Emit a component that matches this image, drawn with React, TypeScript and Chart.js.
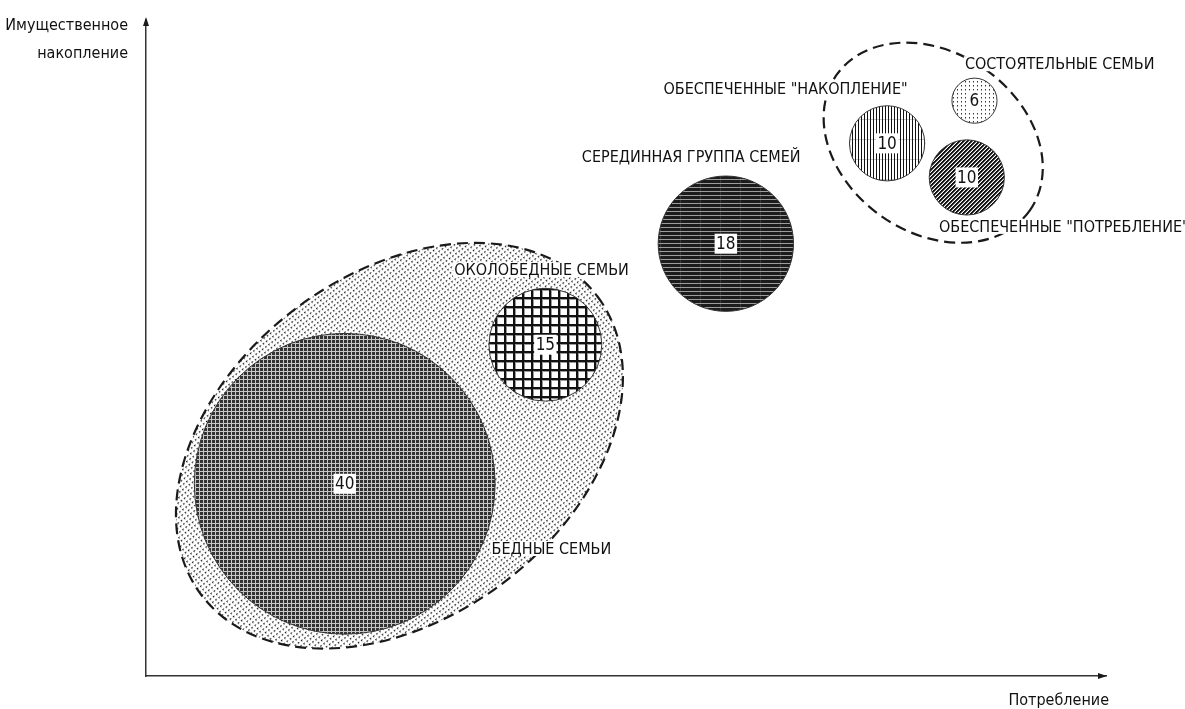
import React, { useEffect, useRef } from "react";
import { Chart, registerables } from "chart.js";

Chart.register(...registerables);

// ---- data ----
const groupNames = [
  "БЕДНЫЕ СЕМЬИ",
  "ОКОЛОБЕДНЫЕ СЕМЬИ",
  "СЕРЕДИННАЯ ГРУППА СЕМЕЙ",
  'ОБЕСПЕЧЕННЫЕ "НАКОПЛЕНИЕ"',
  'ОБЕСПЕЧЕННЫЕ "ПОТРЕБЛЕНИЕ"',
  "СОСТОЯТЕЛЬНЫЕ СЕМЬИ",
];
const consumption = [20.7, 41.6, 60.4, 77.2, 85.5, 86.3];
const accumulation = [29.3, 50.5, 65.9, 81.2, 76.0, 87.7];
const shares = [40, 15, 18, 10, 10, 6];

// cluster ellipses (centres in data units)
const clusterX = [26.4, 82.0];
const clusterY = [35.1, 81.3];

const xAxisTitle = "Потребление";
const yAxisTitle = ["Имущественное", "накопление"];

// ---- layout (positions / sizes / styles) ----
const PX_PER_SHARE = 3.76;
const clusterShape = [
  { a: 248, b: 172, rot: -37, dotted: true },
  { a: 118, b: 90, rot: 35, dotted: false },
];
const labelAnchorX = [36.0, 32.1, 45.4, 53.9, 82.6, 85.3];
const labelAnchorY = [18.6, 61.1, 78.4, 88.7, 67.7, 92.5];

const FONT_FAMILY =
  "'Liberation Sans Narrow', 'DejaVu Sans Condensed', 'Roboto Condensed', 'Liberation Sans', sans-serif";
const LABEL_FONT = `16px ${FONT_FAMILY}`;
const NUMBER_FONT = `17px ${FONT_FAMILY}`;
const INK = "#1a1a1a";

function makePattern(w: number, h: number, draw: (g: CanvasRenderingContext2D) => void) {
  const c = document.createElement("canvas");
  c.width = w;
  c.height = h;
  const g = c.getContext("2d")!;
  draw(g);
  return g.createPattern(c, "repeat")!;
}

function buildPatterns() {
  const poor = makePattern(4, 4, (g) => {
    g.fillStyle = "#c8c8c8";
    g.fillRect(0, 0, 4, 4);
    g.fillStyle = "#333";
    g.fillRect(0, 0, 3, 3);
  });
  const nearPoor = makePattern(9, 9, (g) => {
    g.fillStyle = "#fff";
    g.fillRect(0, 0, 9, 9);
    g.fillStyle = "#9a9a9a";
    g.fillRect(0, 2, 9, 1);
    g.fillRect(2, 0, 1, 9);
    g.fillStyle = "#111";
    g.fillRect(0, 0, 9, 2);
    g.fillRect(0, 0, 2, 9);
  });
  const middle = makePattern(20, 4, (g) => {
    g.fillStyle = "#1c1c1c";
    g.fillRect(0, 0, 20, 4);
    g.fillStyle = "#9c9c9c";
    g.fillRect(0, 3, 20, 1);
    g.fillStyle = "#3a3a3a";
    g.fillRect(0, 0, 1, 3);
  });
  const accum = makePattern(3, 20, (g) => {
    g.fillStyle = "#fff";
    g.fillRect(0, 0, 3, 20);
    g.fillStyle = "#c8c8c8";
    g.fillRect(0, 19, 3, 1);
    g.fillStyle = "#111";
    g.fillRect(0, 0, 1, 20);
  });
  const consum = makePattern(4, 4, (g) => {
    for (let x = 0; x < 4; x++)
      for (let y = 0; y < 4; y++) {
        const d = (x + y) % 4;
        g.fillStyle = d === 3 || d === 0 ? "#111" : d === 1 ? "#777" : "#fff";
        g.fillRect(x, y, 1, 1);
      }
  });
  const rich = makePattern(4, 4, (g) => {
    g.fillStyle = "#fff";
    g.fillRect(0, 0, 4, 4);
    g.fillStyle = "#333";
    g.fillRect(1, 1, 1, 1);
    g.fillStyle = "#999";
    g.fillRect(1, 2, 1, 1);
  });
  const cloud = makePattern(4, 4, (g) => {
    g.fillStyle = "#fff";
    g.fillRect(0, 0, 4, 4);
    g.fillStyle = "#111";
    g.fillRect(0, 0, 1, 1);
    g.fillStyle = "#666";
    g.fillRect(1, 0, 1, 1);
    g.fillStyle = "#999";
    g.fillRect(0, 1, 1, 1);
  });
  return { fills: [poor, nearPoor, middle, accum, consum, rich], cloud };
}

export default function App() {
  const ref = useRef<HTMLCanvasElement | null>(null);

  useEffect(() => {
    const canvas = ref.current!;
    const { fills, cloud } = buildPatterns();

    const clusterPlugin = {
      id: "clusters",
      beforeDatasetsDraw(chart: any) {
        const { ctx, scales } = chart;
        clusterX.forEach((cx, i) => {
          const s = clusterShape[i];
          const px = scales.x.getPixelForValue(cx);
          const py = scales.y.getPixelForValue(clusterY[i]);
          ctx.save();
          ctx.translate(px, py);
          ctx.rotate((s.rot * Math.PI) / 180);
          ctx.beginPath();
          ctx.ellipse(0, 0, s.a, s.b, 0, 0, Math.PI * 2);
          if (s.dotted) {
            ctx.fillStyle = cloud;
            ctx.fill();
          }
          ctx.setLineDash([11, 6]);
          ctx.lineWidth = 2.2;
          ctx.strokeStyle = INK;
          ctx.stroke();
          ctx.restore();
        });
      },
    };

    const labelPlugin = {
      id: "labels",
      afterDatasetsDraw(chart: any) {
        const { ctx, scales, chartArea } = chart;
        const meta = chart.getDatasetMeta(0);
        ctx.save();
        // share numbers in white boxes
        ctx.font = NUMBER_FONT;
        ctx.textAlign = "center";
        ctx.textBaseline = "middle";
        meta.data.forEach((pt: any, i: number) => {
          const t = String(shares[i]);
          const w = ctx.measureText(t).width + 3;
          ctx.fillStyle = "#fff";
          ctx.fillRect(pt.x - w / 2, pt.y - 10, w, 20);
          ctx.fillStyle = "#111";
          ctx.fillText(t, pt.x, pt.y + 1);
        });
        // group names
        ctx.font = LABEL_FONT;
        ctx.textAlign = "left";
        ctx.textBaseline = "alphabetic";
        groupNames.forEach((name, i) => {
          const x = scales.x.getPixelForValue(labelAnchorX[i]);
          const y = scales.y.getPixelForValue(labelAnchorY[i]);
          const w = ctx.measureText(name).width;
          ctx.fillStyle = "#fff";
          ctx.fillRect(x - 1, y - 13, w + 2, 15);
          ctx.fillStyle = "#111";
          ctx.fillText(name, x, y);
        });
        // axis titles
        ctx.textAlign = "right";
        ctx.fillText(yAxisTitle[0], chartArea.left - 18, chartArea.top + 10);
        ctx.fillText(yAxisTitle[1], chartArea.left - 18, chartArea.top + 38);
        ctx.fillText(xAxisTitle, chartArea.right + 3, chartArea.bottom + 29);
        ctx.restore();
      },
      afterDraw(chart: any) {
        const { ctx, chartArea } = chart;
        ctx.save();
        ctx.fillStyle = INK;
        ctx.beginPath();
        ctx.moveTo(chartArea.left, chartArea.top - 3);
        ctx.lineTo(chartArea.left - 3, chartArea.top + 6);
        ctx.lineTo(chartArea.left + 3, chartArea.top + 6);
        ctx.closePath();
        ctx.fill();
        ctx.beginPath();
        ctx.moveTo(chartArea.right + 1, chartArea.bottom);
        ctx.lineTo(chartArea.right - 8, chartArea.bottom - 3);
        ctx.lineTo(chartArea.right - 8, chartArea.bottom + 3);
        ctx.closePath();
        ctx.fill();
        ctx.restore();
      },
    };

    const chart = new Chart(canvas, {
      type: "bubble",
      data: {
        datasets: [
          {
            label: "Группы семей",
            data: consumption.map((x, i) => ({ x, y: accumulation[i], r: shares[i] * PX_PER_SHARE })),
            backgroundColor: fills,
            borderColor: "#333",
            borderWidth: 1,
            hoverBorderWidth: 1,
            clip: false as any,
          },
        ],
      },
      options: {
        responsive: false,
        animation: false,
        devicePixelRatio: 1,
        events: [],
        layout: { autoPadding: false, padding: { left: 146, right: 79, top: 20, bottom: 33 } },
        plugins: { legend: { display: false }, tooltip: { enabled: false } },
        scales: {
          x: {
            type: "linear",
            min: 0,
            max: 100,
            grid: { display: false },
            ticks: { display: false },
            border: { display: true, color: "#333", width: 1.5 },
            afterFit: (s: any) => {
              s.height = 0;
            },
          },
          y: {
            type: "linear",
            min: 0,
            max: 100,
            grid: { display: false },
            ticks: { display: false },
            border: { display: true, color: "#333", width: 1.5 },
            afterFit: (s: any) => {
              s.width = 0;
            },
          },
        },
      },
      plugins: [clusterPlugin, labelPlugin],
    });
    return () => chart.destroy();
  }, []);

  return (
    <div style={{ position: "absolute", left: 0, top: 0, width: 1185, height: 709, background: "#fff" }}>
      <canvas ref={ref} width={1185} height={709} />
    </div>
  );
}
